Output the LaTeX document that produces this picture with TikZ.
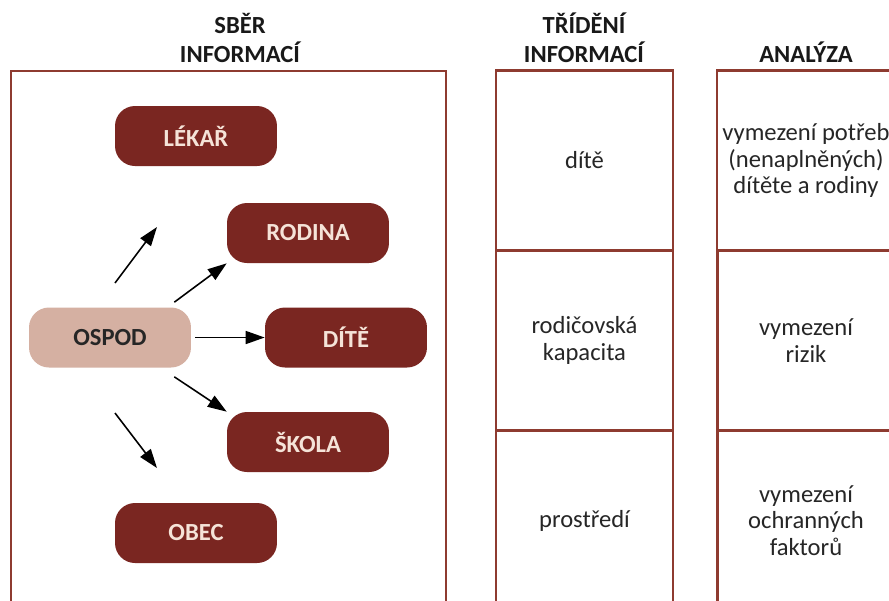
\documentclass[tikz,border=0pt]{standalone}
\usepackage{fontspec}
\setmainfont{Carlito}
\usetikzlibrary{positioning,arrows.meta}
\definecolor{nodered}{HTML}{7A2621}
\definecolor{framered}{HTML}{8E3B30}
\definecolor{ospodfill}{HTML}{D5B0A2}
\definecolor{nodetext}{HTML}{F5E3D8}

\begin{document}
\begin{tikzpicture}[
    x=0.02cm, y=-0.02cm,
    agent/.style={rounded corners=0.4cm, fill=nodered, text=nodetext, font=\bfseries\fontsize{14}{16}\selectfont, minimum width=3.24cm, minimum height=1.2cm, inner sep=0pt},
    hub/.style={agent, fill=ospodfill, text=black!85},
    cell/.style={draw=framered, line width=1.2pt, minimum width=3.54cm, minimum height=3.6cm, align=center, font=\fontsize{14}{15}\selectfont, text=black!85},
    header/.style={font=\bfseries\fontsize{14}{16.5}\selectfont, align=center, anchor=south, inner sep=0pt, text=black!90},
    arrow/.style={-{Triangle[length=3.8mm, width=2.6mm]}, line width=0.9pt}
]
\clip (0,0) rectangle (889,600);
\fill[white] (0,0) rectangle (889,600);

% column headers
\node[header] (hsber) at (240,63) {SBĚR\\INFORMACÍ};
\node[header] (htrid) at (584,63) {TŘÍDĚNÍ\\INFORMACÍ};
\node[header] (hanal) at (806,63) {ANALÝZA};

% gathering frame
\draw[framered, line width=1.2pt] (11,71) rectangle (446,620);

\node[agent] (lekar) at (196,136) {LÉKAŘ};
\node[agent] (rodina) at (308,233) {RODINA};
\node[hub] (ospod) at (110,337.5) {OSPOD};
\node[agent] (dite) at (346,337.5) {DÍTĚ};
\node[agent] (skola) at (308,442) {ŠKOLA};
\node[agent] (obec) at (196,533) {OBEC};

\coordinate (ups) at (115,283);
\coordinate (upe) at (157,227);
\coordinate (dns) at (115,413);
\coordinate (dne) at (157,468);

\draw[arrow] (ups) -- (upe);
\draw[arrow] ([shift={(-17,-5)}]ospod.north east) -- (rodina.south west);
\draw[arrow, shorten <=0.08cm] (ospod) -- (dite);
\draw[arrow] ([shift={(-17,9)}]ospod.south east) -- (skola.north west);
\draw[arrow] (dns) -- (dne);

% sorting column
\node[cell] (tdite) at (584.5,160.5) {dítě};
\node[cell] (tkap) at (584.5,340.5) {rodičovská\\kapacita};
\node[cell] (tpros) at (584.5,520.5) {prostředí};

% analysis column
\node[cell] (apotr) at (806,160.5) {vymezení potřeb\\(nenaplněných)\\dítěte a rodiny};
\node[cell] (arizik) at (806,340.5) {vymezení\\rizik};
\node[cell] (aochr) at (806,520.5) {vymezení\\ochranných\\faktorů};
\end{tikzpicture}
\end{document}
